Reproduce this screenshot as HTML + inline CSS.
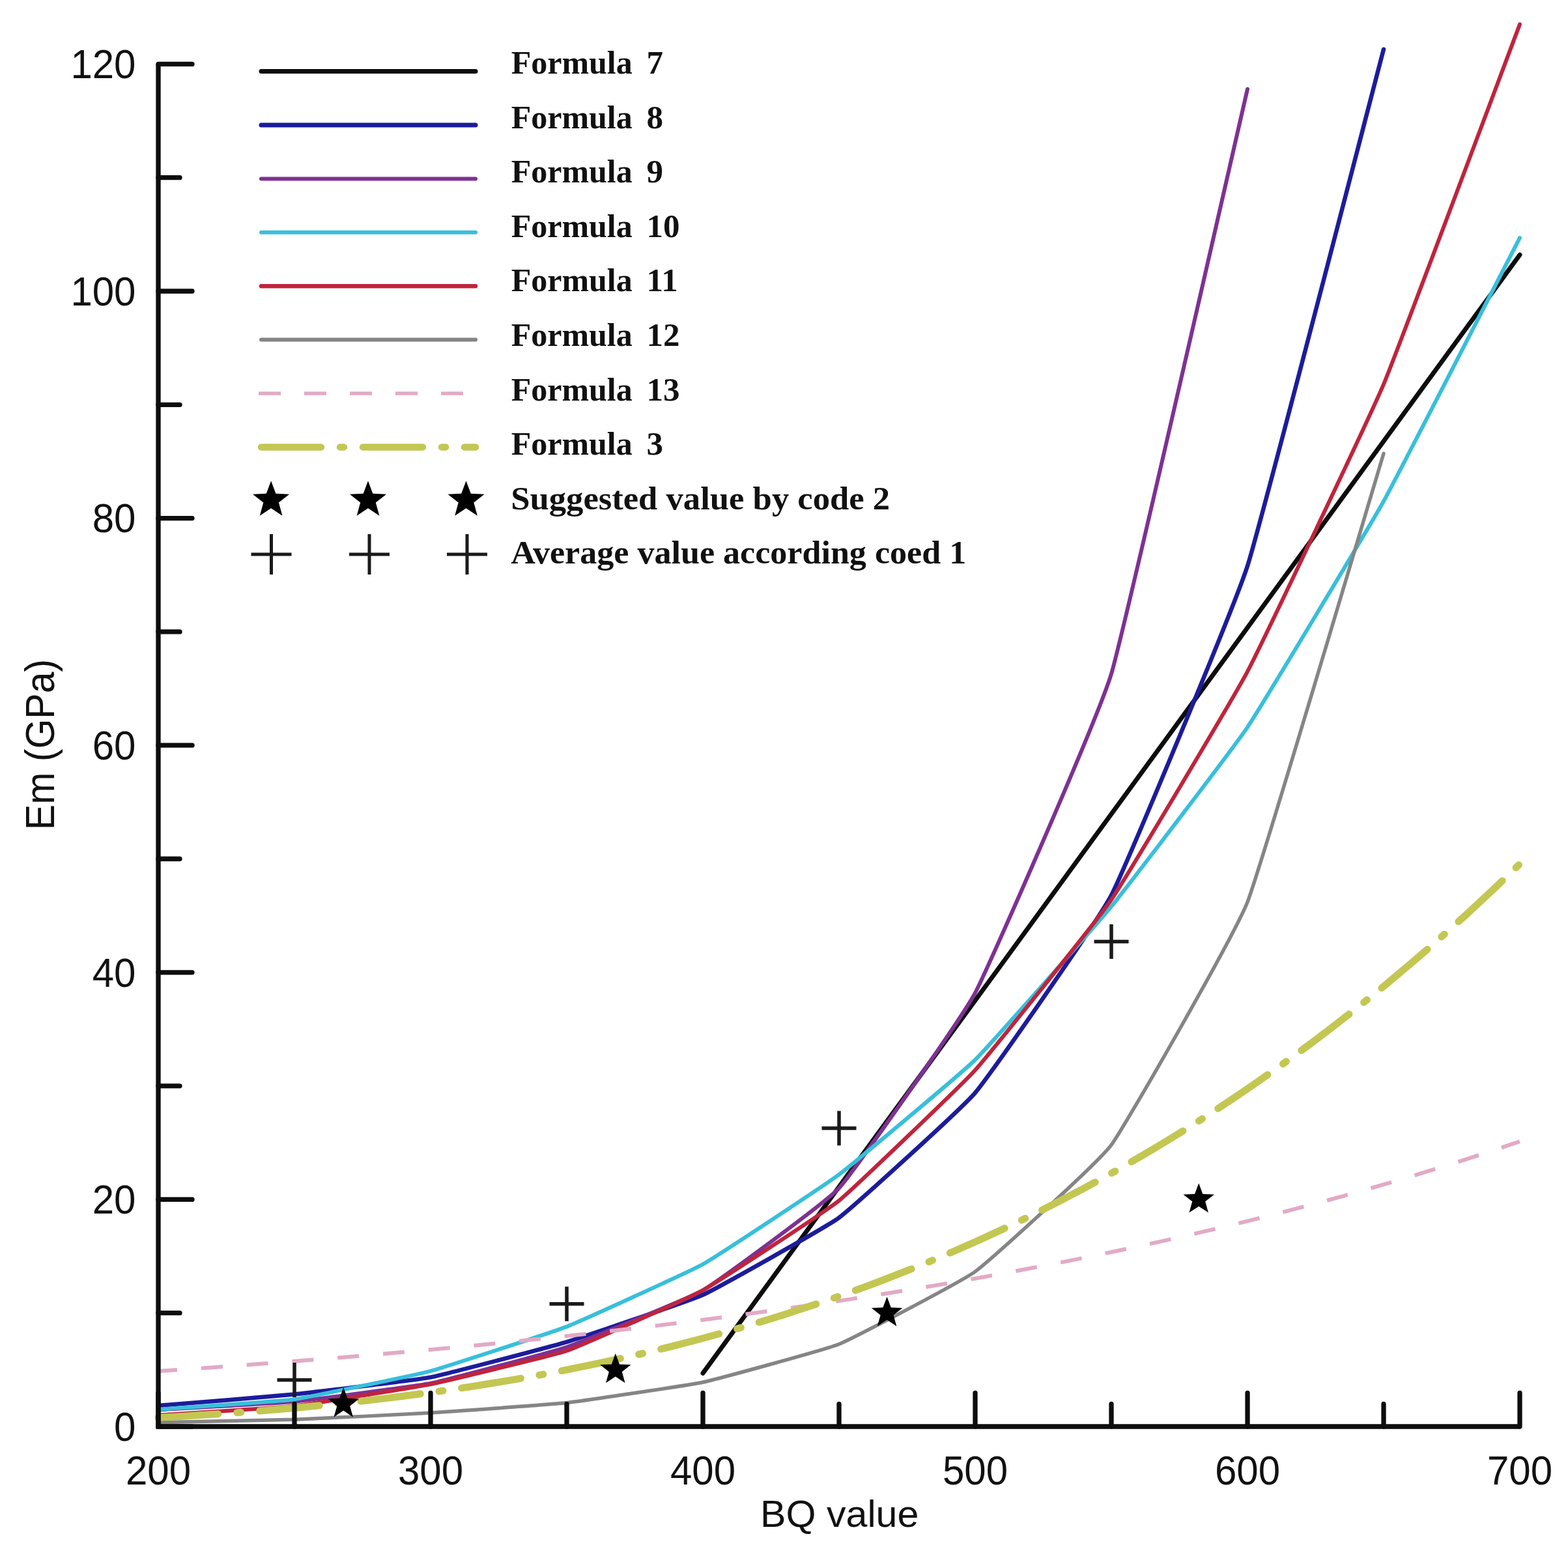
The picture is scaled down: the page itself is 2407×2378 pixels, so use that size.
<!DOCTYPE html>
<html><head><meta charset="utf-8"><title>Em vs BQ</title>
<style>
html,body{margin:0;padding:0;background:#fff;}
body{width:2407px;height:2378px;overflow:hidden;}
svg{display:block;}
.tk{font-family:"Liberation Sans",Arial,Helvetica,sans-serif;font-size:60px;fill:#111;}
.lg{font-family:"Liberation Serif","Times New Roman",serif;font-weight:bold;font-size:51px;fill:#111;}
</style></head><body>
<svg width="2407" height="2378" viewBox="0 0 2407 2378">
<rect width="2407" height="2378" fill="#fff"/>

<g id="curves">
<polyline points="1079.0,2108.1 2333.0,391.2" fill="none" stroke="#0d0d0d" stroke-width="7" stroke-linejoin="round" stroke-linecap="round" />
<path d="M243.0,2157.9 C263.9,2156.2 431.1,2142.7 452.0,2140.5 C472.9,2138.3 640.1,2118.4 661.0,2114.4 C681.9,2110.3 849.1,2066.5 870.0,2060.1 C890.9,2053.8 1058.1,1997.4 1079.0,1987.8 C1099.9,1978.3 1267.1,1884.8 1288.0,1869.3 C1308.9,1853.8 1476.1,1702.3 1497.0,1677.6 C1517.9,1652.8 1685.1,1414.7 1706.0,1374.3 C1726.9,1333.8 1894.1,933.7 1915.0,868.8 C1935.9,803.9 2103.1,155.0 2124.0,75.7" fill="none" stroke="#1c1c9c" stroke-width="6.5" stroke-linejoin="round" stroke-linecap="round" />
<path d="M243.0,2164.4 C263.9,2163.1 431.1,2153.7 452.0,2151.7 C472.9,2149.6 640.1,2127.9 661.0,2123.8 C681.9,2119.6 849.1,2075.1 870.0,2068.0 C890.9,2060.8 1058.1,1993.0 1079.0,1980.8 C1099.9,1968.6 1267.1,1846.8 1288.0,1824.0 C1308.9,1801.1 1476.1,1563.7 1497.0,1524.2 C1517.9,1484.7 1685.1,1103.8 1706.0,1034.4 C1726.9,965.0 1894.1,226.5 1915.0,136.7" fill="none" stroke="#7e3193" stroke-width="6" stroke-linejoin="round" stroke-linecap="round" />
<path d="M243.0,2163.9 C263.9,2162.3 431.1,2151.1 452.0,2148.2 C472.9,2145.2 640.1,2110.3 661.0,2104.8 C681.9,2099.2 849.1,2044.8 870.0,2036.6 C890.9,2028.4 1058.1,1952.4 1079.0,1940.8 C1099.9,1929.1 1267.1,1818.7 1288.0,1803.1 C1308.9,1787.4 1476.1,1647.6 1497.0,1627.0 C1517.9,1606.4 1685.1,1417.2 1706.0,1391.7 C1726.9,1366.2 1894.1,1147.4 1915.0,1116.3 C1935.9,1085.2 2103.1,807.0 2124.0,769.5 C2144.9,731.9 2312.1,405.5 2333.0,365.1" fill="none" stroke="#38bfdc" stroke-width="6" stroke-linejoin="round" stroke-linecap="round" />
<path d="M243.0,2172.6 C263.9,2171.2 431.1,2161.0 452.0,2158.6 C472.9,2156.2 640.1,2129.2 661.0,2125.0 C681.9,2120.7 849.1,2080.9 870.0,2073.7 C890.9,2066.5 1058.1,1992.4 1079.0,1980.8 C1099.9,1969.3 1267.1,1860.1 1288.0,1843.1 C1308.9,1826.2 1476.1,1665.8 1497.0,1642.7 C1517.9,1619.6 1685.1,1411.8 1706.0,1381.2 C1726.9,1350.7 1894.1,1070.5 1915.0,1030.9 C1935.9,991.3 2103.1,639.6 2124.0,589.9 C2144.9,540.3 2312.1,92.6 2333.0,37.4" fill="none" stroke="#c0243c" stroke-width="6" stroke-linejoin="round" stroke-linecap="round" />
<path d="M243.0,2183.6 C263.9,2183.1 431.1,2179.9 452.0,2179.2 C472.9,2178.5 640.1,2170.4 661.0,2169.1 C681.9,2167.8 849.1,2155.9 870.0,2153.6 C890.9,2151.2 1058.1,2126.5 1079.0,2122.0 C1099.9,2117.5 1267.1,2072.0 1288.0,2063.5 C1308.9,2055.0 1476.1,1967.4 1497.0,1952.1 C1517.9,1936.8 1685.1,1786.1 1706.0,1757.7 C1726.9,1729.4 1894.1,1437.8 1915.0,1384.7 C1935.9,1331.7 2103.1,765.1 2124.0,696.2" fill="none" stroke="#858585" stroke-width="5.5" stroke-linejoin="round" stroke-linecap="round" />
<polyline points="243.0,2104.9 263.9,2103.5 284.8,2102.1 305.7,2100.7 326.6,2099.2 347.5,2097.7 368.4,2096.2 389.3,2094.6 410.2,2093.0 431.1,2091.4 452.0,2089.8 472.9,2088.1 493.8,2086.5 514.7,2084.8 535.6,2083.0 556.5,2081.2 577.4,2079.5 598.3,2077.6 619.2,2075.8 640.1,2073.9 661.0,2072.0 681.9,2070.0 702.8,2068.0 723.7,2066.0 744.6,2064.0 765.5,2061.9 786.4,2059.8 807.3,2057.6 828.2,2055.4 849.1,2053.2 870.0,2051.0 890.9,2048.7 911.8,2046.3 932.7,2044.0 953.6,2041.5 974.5,2039.1 995.4,2036.6 1016.3,2034.1 1037.2,2031.5 1058.1,2028.9 1079.0,2026.2 1099.9,2023.5 1120.8,2020.8 1141.7,2018.0 1162.6,2015.1 1183.5,2012.2 1204.4,2009.3 1225.3,2006.3 1246.2,2003.3 1267.1,2000.2 1288.0,1997.1 1308.9,1993.9 1329.8,1990.6 1350.7,1987.3 1371.6,1984.0 1392.5,1980.6 1413.4,1977.1 1434.3,1973.6 1455.2,1970.0 1476.1,1966.4 1497.0,1962.7 1517.9,1959.0 1538.8,1955.1 1559.7,1951.3 1580.6,1947.3 1601.5,1943.3 1622.4,1939.2 1643.3,1935.1 1664.2,1930.9 1685.1,1926.6 1706.0,1922.2 1726.9,1917.8 1747.8,1913.3 1768.7,1908.8 1789.6,1904.1 1810.5,1899.4 1831.4,1894.6 1852.3,1889.7 1873.2,1884.8 1894.1,1879.7 1915.0,1874.6 1935.9,1869.4 1956.8,1864.1 1977.7,1858.7 1998.6,1853.2 2019.5,1847.7 2040.4,1842.0 2061.3,1836.3 2082.2,1830.4 2103.1,1824.5 2124.0,1818.4 2144.9,1812.3 2165.8,1806.1 2186.7,1799.7 2207.6,1793.3 2228.5,1786.7 2249.4,1780.1 2270.3,1773.3 2291.2,1766.4 2312.1,1759.4 2333.0,1752.3" fill="none" stroke="#e2aac6" stroke-width="6" stroke-linejoin="round" stroke-linecap="butt" stroke-dasharray="33 37" stroke-dashoffset="4"/>
<polyline points="243.0,2176.3 263.9,2175.2 284.8,2173.9 305.7,2172.6 326.6,2171.3 347.5,2169.8 368.4,2168.3 389.3,2166.7 410.2,2165.0 431.1,2163.3 452.0,2161.4 472.9,2159.5 493.8,2157.4 514.7,2155.3 535.6,2153.1 556.5,2150.8 577.4,2148.4 598.3,2145.9 619.2,2143.3 640.1,2140.5 661.0,2137.7 681.9,2134.8 702.8,2131.7 723.7,2128.6 744.6,2125.3 765.5,2121.9 786.4,2118.3 807.3,2114.7 828.2,2110.9 849.1,2107.0 870.0,2102.9 890.9,2098.7 911.8,2094.4 932.7,2089.9 953.6,2085.3 974.5,2080.6 995.4,2075.7 1016.3,2070.6 1037.2,2065.4 1058.1,2060.0 1079.0,2054.5 1099.9,2048.8 1120.8,2043.0 1141.7,2036.9 1162.6,2030.8 1183.5,2024.4 1204.4,2017.9 1225.3,2011.1 1246.2,2004.3 1267.1,1997.2 1288.0,1989.9 1308.9,1982.5 1329.8,1974.8 1350.7,1967.0 1371.6,1958.9 1392.5,1950.7 1413.4,1942.3 1434.3,1933.6 1455.2,1924.8 1476.1,1915.7 1497.0,1906.4 1517.9,1896.9 1538.8,1887.2 1559.7,1877.3 1580.6,1867.1 1601.5,1856.7 1622.4,1846.1 1643.3,1835.2 1664.2,1824.1 1685.1,1812.8 1706.0,1801.2 1726.9,1789.4 1747.8,1777.3 1768.7,1765.0 1789.6,1752.4 1810.5,1739.6 1831.4,1726.5 1852.3,1713.2 1873.2,1699.5 1894.1,1685.6 1915.0,1671.5 1935.9,1657.0 1956.8,1642.3 1977.7,1627.3 1998.6,1612.0 2019.5,1596.5 2040.4,1580.6 2061.3,1564.4 2082.2,1548.0 2103.1,1531.2 2124.0,1514.2 2144.9,1496.8 2165.8,1479.1 2186.7,1461.2 2207.6,1442.9 2228.5,1424.2 2249.4,1405.3 2270.3,1386.0 2291.2,1366.5 2312.1,1346.5 2333.0,1326.3" fill="none" stroke="#c3c752" stroke-width="11" stroke-linejoin="round" stroke-linecap="round" stroke-dasharray="92 29 6 29"/>
</g>
<g id="markers">
<polygon points="527.2,2130.1 533.4,2146.6 551.0,2147.4 537.2,2158.4 541.9,2175.4 527.2,2165.6 512.5,2175.4 517.3,2158.4 503.5,2147.4 521.1,2146.6" fill="#000"/>
<polygon points="944.8,2077.8 951.0,2094.4 968.6,2095.1 954.8,2106.1 959.5,2123.1 944.8,2113.3 930.1,2123.1 934.8,2106.1 921.0,2095.1 938.7,2094.4" fill="#000"/>
<polygon points="1361.6,1990.7 1367.7,2007.2 1385.3,2008.0 1371.6,2018.9 1376.3,2035.9 1361.6,2026.2 1346.9,2035.9 1351.6,2018.9 1337.8,2008.0 1355.4,2007.2" fill="#000"/>
<polygon points="1840.2,1816.4 1846.3,1832.9 1864.0,1833.7 1850.2,1844.6 1854.9,1861.6 1840.2,1851.9 1825.5,1861.6 1830.2,1844.6 1816.4,1833.7 1834.0,1832.9" fill="#000"/>
<path d="M425.5,2118.4H478.5M452.0,2091.9V2144.9" stroke="#1a1a1a" stroke-width="5.5" fill="none"/>
<path d="M843.5,2001.8H896.5M870.0,1975.3V2028.3" stroke="#1a1a1a" stroke-width="5.5" fill="none"/>
<path d="M1261.5,1731.9H1314.5M1288.0,1705.4V1758.4" stroke="#1a1a1a" stroke-width="5.5" fill="none"/>
<path d="M1679.5,1445.4H1732.5M1706.0,1418.9V1471.9" stroke="#1a1a1a" stroke-width="5.5" fill="none"/>
</g>
<g id="axes"><path d="M243.0,98.4V2190.0H2333.0" fill="none" stroke="#0d0d0d" stroke-width="7.3" stroke-linejoin="miter"/><line x1="243.0" y1="2190.0" x2="295.0" y2="2190.0" stroke="#0d0d0d" stroke-width="7.3" stroke-linecap="round"/><line x1="243.0" y1="2015.7" x2="276.0" y2="2015.7" stroke="#0d0d0d" stroke-width="7.3" stroke-linecap="round"/><line x1="243.0" y1="1841.4" x2="295.0" y2="1841.4" stroke="#0d0d0d" stroke-width="7.3" stroke-linecap="round"/><line x1="243.0" y1="1667.1" x2="276.0" y2="1667.1" stroke="#0d0d0d" stroke-width="7.3" stroke-linecap="round"/><line x1="243.0" y1="1492.8" x2="295.0" y2="1492.8" stroke="#0d0d0d" stroke-width="7.3" stroke-linecap="round"/><line x1="243.0" y1="1318.5" x2="276.0" y2="1318.5" stroke="#0d0d0d" stroke-width="7.3" stroke-linecap="round"/><line x1="243.0" y1="1144.2" x2="295.0" y2="1144.2" stroke="#0d0d0d" stroke-width="7.3" stroke-linecap="round"/><line x1="243.0" y1="969.9" x2="276.0" y2="969.9" stroke="#0d0d0d" stroke-width="7.3" stroke-linecap="round"/><line x1="243.0" y1="795.6" x2="295.0" y2="795.6" stroke="#0d0d0d" stroke-width="7.3" stroke-linecap="round"/><line x1="243.0" y1="621.3" x2="276.0" y2="621.3" stroke="#0d0d0d" stroke-width="7.3" stroke-linecap="round"/><line x1="243.0" y1="447.0" x2="295.0" y2="447.0" stroke="#0d0d0d" stroke-width="7.3" stroke-linecap="round"/><line x1="243.0" y1="272.7" x2="276.0" y2="272.7" stroke="#0d0d0d" stroke-width="7.3" stroke-linecap="round"/><line x1="243.0" y1="98.4" x2="295.0" y2="98.4" stroke="#0d0d0d" stroke-width="7.3" stroke-linecap="round"/><line x1="243.0" y1="2190.0" x2="243.0" y2="2138.5" stroke="#0d0d0d" stroke-width="7.3" stroke-linecap="round"/><line x1="452.0" y1="2190.0" x2="452.0" y2="2155.5" stroke="#0d0d0d" stroke-width="7.3" stroke-linecap="round"/><line x1="661.0" y1="2190.0" x2="661.0" y2="2138.5" stroke="#0d0d0d" stroke-width="7.3" stroke-linecap="round"/><line x1="870.0" y1="2190.0" x2="870.0" y2="2155.5" stroke="#0d0d0d" stroke-width="7.3" stroke-linecap="round"/><line x1="1079.0" y1="2190.0" x2="1079.0" y2="2138.5" stroke="#0d0d0d" stroke-width="7.3" stroke-linecap="round"/><line x1="1288.0" y1="2190.0" x2="1288.0" y2="2155.5" stroke="#0d0d0d" stroke-width="7.3" stroke-linecap="round"/><line x1="1497.0" y1="2190.0" x2="1497.0" y2="2138.5" stroke="#0d0d0d" stroke-width="7.3" stroke-linecap="round"/><line x1="1706.0" y1="2190.0" x2="1706.0" y2="2155.5" stroke="#0d0d0d" stroke-width="7.3" stroke-linecap="round"/><line x1="1915.0" y1="2190.0" x2="1915.0" y2="2138.5" stroke="#0d0d0d" stroke-width="7.3" stroke-linecap="round"/><line x1="2124.0" y1="2190.0" x2="2124.0" y2="2155.5" stroke="#0d0d0d" stroke-width="7.3" stroke-linecap="round"/><line x1="2333.0" y1="2190.0" x2="2333.0" y2="2138.5" stroke="#0d0d0d" stroke-width="7.3" stroke-linecap="round"/></g>
<g id="labels"><text class="tk" transform="translate(208.5,2211.8) scale(1,1.045)" text-anchor="end">0</text><text class="tk" transform="translate(208.5,1863.2) scale(1,1.045)" text-anchor="end">20</text><text class="tk" transform="translate(208.5,1514.6) scale(1,1.045)" text-anchor="end">40</text><text class="tk" transform="translate(208.5,1166.0) scale(1,1.045)" text-anchor="end">60</text><text class="tk" transform="translate(208.5,817.4) scale(1,1.045)" text-anchor="end">80</text><text class="tk" transform="translate(208.5,468.8) scale(1,1.045)" text-anchor="end">100</text><text class="tk" transform="translate(208.5,120.2) scale(1,1.045)" text-anchor="end">120</text><text class="tk" transform="translate(243.0,2278.8) scale(1,1.045)" text-anchor="middle">200</text><text class="tk" transform="translate(661.0,2278.8) scale(1,1.045)" text-anchor="middle">300</text><text class="tk" transform="translate(1079.0,2278.8) scale(1,1.045)" text-anchor="middle">400</text><text class="tk" transform="translate(1497.0,2278.8) scale(1,1.045)" text-anchor="middle">500</text><text class="tk" transform="translate(1915.0,2278.8) scale(1,1.045)" text-anchor="middle">600</text><text class="tk" transform="translate(2333.0,2278.8) scale(1,1.045)" text-anchor="middle">700</text><text class="tk" transform="translate(1288.7,2344.2) scale(1.02,1)" text-anchor="middle" style="font-size:58px">BQ value</text><text class="tk" transform="translate(83,1143) rotate(-90) scale(0.984,1.05)" text-anchor="middle">Em (GPa)</text></g>
<g id="legend"><line x1="401.0" y1="109.6" x2="730.0" y2="109.6" stroke="#0d0d0d" stroke-width="7" stroke-linecap="round"/><line x1="401.0" y1="192.0" x2="730.0" y2="192.0" stroke="#1c1c9c" stroke-width="7" stroke-linecap="round"/><line x1="401.0" y1="274.4" x2="730.0" y2="274.4" stroke="#7e3193" stroke-width="6" stroke-linecap="round"/><line x1="401.0" y1="356.8" x2="730.0" y2="356.8" stroke="#38bfdc" stroke-width="6" stroke-linecap="round"/><line x1="401.0" y1="439.2" x2="730.0" y2="439.2" stroke="#c0243c" stroke-width="6.5" stroke-linecap="round"/><line x1="401.0" y1="521.6" x2="730.0" y2="521.6" stroke="#858585" stroke-width="6" stroke-linecap="round"/><line x1="397.0" y1="604.0" x2="734.0" y2="604.0" stroke="#e2aac6" stroke-width="5.5" stroke-dasharray="34 36"/><line x1="401.0" y1="686.4" x2="730.0" y2="686.4" stroke="#c3c752" stroke-width="10.5" stroke-dasharray="92 29 6 29" stroke-linecap="round"/><polygon points="416.1,738.3 423.4,757.8 444.2,758.7 427.9,771.6 433.4,791.7 416.1,780.2 398.8,791.7 404.3,771.6 388.0,758.7 408.8,757.8" fill="#000"/><polygon points="565.0,738.3 572.3,757.8 593.1,758.7 576.8,771.6 582.3,791.7 565.0,780.2 547.7,791.7 553.2,771.6 536.9,758.7 557.7,757.8" fill="#000"/><polygon points="715.5,738.3 722.8,757.8 743.6,758.7 727.3,771.6 732.8,791.7 715.5,780.2 698.2,791.7 703.7,771.6 687.4,758.7 708.2,757.8" fill="#000"/><path d="M385.5,850.9H447.5M416.5,819.9V881.9" stroke="#1a1a1a" stroke-width="5" fill="none"/><path d="M536.0,850.9H598.0M567.0,819.9V881.9" stroke="#1a1a1a" stroke-width="5" fill="none"/><path d="M686.0,850.9H748.0M717.0,819.9V881.9" stroke="#1a1a1a" stroke-width="5" fill="none"/><text class="lg" x="784.7" y="113.0" textLength="186" lengthAdjust="spacingAndGlyphs">Formula</text><text class="lg" x="992.5" y="113.0">7</text><text class="lg" x="784.7" y="196.6" textLength="186" lengthAdjust="spacingAndGlyphs">Formula</text><text class="lg" x="992.5" y="196.6">8</text><text class="lg" x="784.7" y="280.2" textLength="186" lengthAdjust="spacingAndGlyphs">Formula</text><text class="lg" x="992.5" y="280.2">9</text><text class="lg" x="784.7" y="363.8" textLength="186" lengthAdjust="spacingAndGlyphs">Formula</text><text class="lg" x="992.5" y="363.8">10</text><text class="lg" x="784.7" y="447.4" textLength="186" lengthAdjust="spacingAndGlyphs">Formula</text><text class="lg" x="992.5" y="447.4">11</text><text class="lg" x="784.7" y="531.0" textLength="186" lengthAdjust="spacingAndGlyphs">Formula</text><text class="lg" x="992.5" y="531.0">12</text><text class="lg" x="784.7" y="614.6" textLength="186" lengthAdjust="spacingAndGlyphs">Formula</text><text class="lg" x="992.5" y="614.6">13</text><text class="lg" x="784.7" y="698.2" textLength="186" lengthAdjust="spacingAndGlyphs">Formula</text><text class="lg" x="992.5" y="698.2">3</text><text class="lg" x="784.2" y="781.8" textLength="582" lengthAdjust="spacingAndGlyphs">Suggested value by code 2</text><text class="lg" x="784.2" y="865.4" textLength="699" lengthAdjust="spacingAndGlyphs">Average value according coed 1</text></g>
</svg>
</body></html>
